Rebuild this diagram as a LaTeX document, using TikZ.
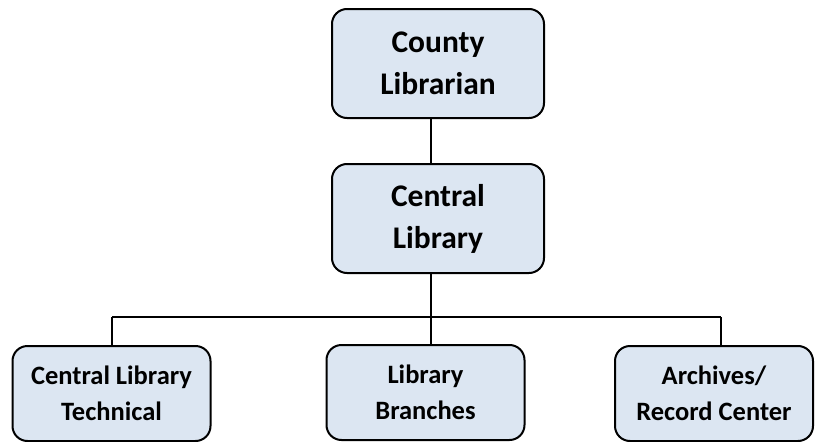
\documentclass[tikz,border=0pt]{standalone}
\usepackage{fontspec}
\setmainfont{Carlito}
\begin{document}
\begin{tikzpicture}[x=1pt,y=1pt,
  orgbox/.style={draw=black, line width=2pt, fill=boxfill, rounded corners=15pt,
    inner sep=0pt, align=center},
  topbox/.style={orgbox, minimum width=212pt, minimum height=109pt,
    font=\fontsize{31.5}{42}\selectfont\bfseries},
  lowbox/.style={orgbox, minimum width=198pt, minimum height=95pt,
    font=\fontsize{26.5}{36}\selectfont\bfseries},
  link/.style={draw=black, line width=1.5pt}]
\definecolor{boxfill}{HTML}{DCE6F2}
\useasboundingbox (0,0) rectangle (815,-442);

% upper levels
\node[topbox] (county)  at (438,-63.5) {County\\Librarian};
\node[topbox] (central) at (438,-218.5) {Central\\Library};

% lower level
\node[lowbox] (tech)     at (111.5,-393.5) {Central Library\\Technical};
\node[lowbox] (branches) at (425.5,-392.5) {Library\\Branches};
\node[lowbox] (archives) at (714,-393.5) {Archives/\\Record Center};

% bus line feeding the lower level
\coordinate (bus)  at (431,-317);
\coordinate (busL) at (112,-317);
\coordinate (busR) at (721,-317);

\draw[link] (county.south -| bus) -- (central.north -| bus);
\draw[link] (central.south -| bus) -- (branches.north -| bus);
\draw[link] (busL) -- (busR);
\draw[link] (busL) -- (tech.north -| busL);
\draw[link] (busR) -- (archives.north -| busR);
\end{tikzpicture}
\end{document}
